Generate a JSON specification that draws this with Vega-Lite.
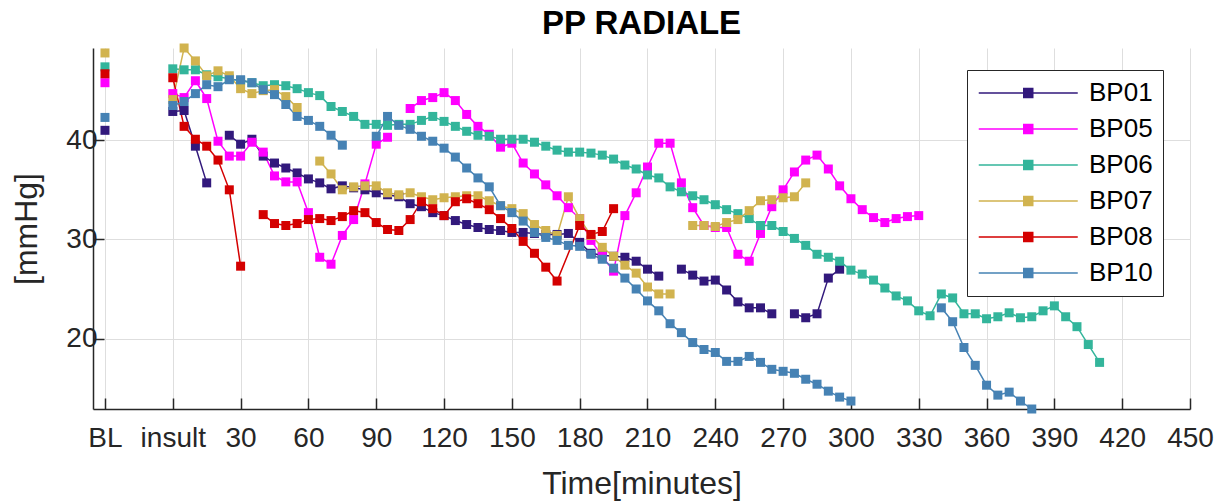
{
  "$schema": "https://vega.github.io/schema/vega-lite/v6.json",
  "width": 1097,
  "height": 361,
  "autosize": {"type": "none"},
  "padding": {"left": 93, "top": 48, "right": 37, "bottom": 95},
  "background": "white",
  "title": {
    "text": "PP RADIALE",
    "font": "Liberation Sans",
    "fontSize": 33,
    "fontWeight": "bold",
    "color": "#000000",
    "anchor": "middle",
    "frame": "group",
    "offset": 3
  },
  "config": {
    "view": {"stroke": null},
    "font": "Liberation Sans",
    "axis": {
      "domainColor": "#262626",
      "domainWidth": 1.5,
      "tickColor": "#262626",
      "tickWidth": 1.5,
      "tickSize": -11,
      "gridColor": "#dedede",
      "gridWidth": 1,
      "labelFont": "Liberation Sans",
      "labelFontSize": 28,
      "labelColor": "#262626",
      "titleFont": "Liberation Sans",
      "titleFontSize": 32,
      "titleFontWeight": "normal",
      "titleColor": "#262626"
    }
  },
  "datasets": {
    "pp": [
      {"subject": "BP01", "time": -30, "pp": 41.0},
      {"subject": "BP01", "time": -15, "pp": null},
      {"subject": "BP01", "time": 0, "pp": 42.9},
      {"subject": "BP01", "time": 5, "pp": 43.0},
      {"subject": "BP01", "time": 10, "pp": 39.4},
      {"subject": "BP01", "time": 15, "pp": 35.7},
      {"subject": "BP01", "time": 20, "pp": null},
      {"subject": "BP01", "time": 25, "pp": 40.5},
      {"subject": "BP01", "time": 30, "pp": 39.6},
      {"subject": "BP01", "time": 35, "pp": 40.1},
      {"subject": "BP01", "time": 40, "pp": 38.4},
      {"subject": "BP01", "time": 45, "pp": 37.7},
      {"subject": "BP01", "time": 50, "pp": 37.2},
      {"subject": "BP01", "time": 55, "pp": 36.7},
      {"subject": "BP01", "time": 60, "pp": 36.1},
      {"subject": "BP01", "time": 65, "pp": 35.7},
      {"subject": "BP01", "time": 70, "pp": 35.1},
      {"subject": "BP01", "time": 75, "pp": 35.4},
      {"subject": "BP01", "time": 80, "pp": 35.2},
      {"subject": "BP01", "time": 85, "pp": 35.0},
      {"subject": "BP01", "time": 90, "pp": 34.7},
      {"subject": "BP01", "time": 95, "pp": 34.5},
      {"subject": "BP01", "time": 100, "pp": 34.3},
      {"subject": "BP01", "time": 105, "pp": 33.6},
      {"subject": "BP01", "time": 110, "pp": 33.3},
      {"subject": "BP01", "time": 115, "pp": 32.7},
      {"subject": "BP01", "time": 120, "pp": 32.4},
      {"subject": "BP01", "time": 125, "pp": 31.9},
      {"subject": "BP01", "time": 130, "pp": 31.5},
      {"subject": "BP01", "time": 135, "pp": 31.2},
      {"subject": "BP01", "time": 140, "pp": 31.0},
      {"subject": "BP01", "time": 145, "pp": 30.9},
      {"subject": "BP01", "time": 150, "pp": 30.7},
      {"subject": "BP01", "time": 155, "pp": 30.7},
      {"subject": "BP01", "time": 160, "pp": 30.6},
      {"subject": "BP01", "time": 165, "pp": 30.5},
      {"subject": "BP01", "time": 170, "pp": 30.5},
      {"subject": "BP01", "time": 175, "pp": 30.6},
      {"subject": "BP01", "time": 180, "pp": 29.7},
      {"subject": "BP01", "time": 185, "pp": 28.6},
      {"subject": "BP01", "time": 190, "pp": 28.4},
      {"subject": "BP01", "time": 195, "pp": 28.3},
      {"subject": "BP01", "time": 200, "pp": 28.2},
      {"subject": "BP01", "time": 205, "pp": 27.8},
      {"subject": "BP01", "time": 210, "pp": 27.0},
      {"subject": "BP01", "time": 215, "pp": 26.3},
      {"subject": "BP01", "time": 220, "pp": null},
      {"subject": "BP01", "time": 225, "pp": 27.0},
      {"subject": "BP01", "time": 230, "pp": 26.4},
      {"subject": "BP01", "time": 235, "pp": 25.8},
      {"subject": "BP01", "time": 240, "pp": 25.9},
      {"subject": "BP01", "time": 245, "pp": 24.9},
      {"subject": "BP01", "time": 250, "pp": 23.7},
      {"subject": "BP01", "time": 255, "pp": 23.1},
      {"subject": "BP01", "time": 260, "pp": 23.1},
      {"subject": "BP01", "time": 265, "pp": 22.5},
      {"subject": "BP01", "time": 270, "pp": null},
      {"subject": "BP01", "time": 275, "pp": 22.5},
      {"subject": "BP01", "time": 280, "pp": 22.1},
      {"subject": "BP01", "time": 285, "pp": 22.5},
      {"subject": "BP01", "time": 290, "pp": 26.1},
      {"subject": "BP01", "time": 295, "pp": 27.0},

      {"subject": "BP05", "time": -30, "pp": 45.8},
      {"subject": "BP05", "time": -15, "pp": null},
      {"subject": "BP05", "time": 0, "pp": 44.7},
      {"subject": "BP05", "time": 5, "pp": 44.3},
      {"subject": "BP05", "time": 10, "pp": 46.0},
      {"subject": "BP05", "time": 15, "pp": 44.2},
      {"subject": "BP05", "time": 20, "pp": 39.9},
      {"subject": "BP05", "time": 25, "pp": 38.4},
      {"subject": "BP05", "time": 30, "pp": 38.4},
      {"subject": "BP05", "time": 35, "pp": 39.8},
      {"subject": "BP05", "time": 40, "pp": 38.8},
      {"subject": "BP05", "time": 45, "pp": 36.4},
      {"subject": "BP05", "time": 50, "pp": 35.8},
      {"subject": "BP05", "time": 55, "pp": 35.8},
      {"subject": "BP05", "time": 60, "pp": 32.7},
      {"subject": "BP05", "time": 65, "pp": 28.2},
      {"subject": "BP05", "time": 70, "pp": 27.5},
      {"subject": "BP05", "time": 75, "pp": 30.4},
      {"subject": "BP05", "time": 80, "pp": 32.0},
      {"subject": "BP05", "time": 85, "pp": 35.6},
      {"subject": "BP05", "time": 90, "pp": 39.6},
      {"subject": "BP05", "time": 95, "pp": 40.3},
      {"subject": "BP05", "time": 100, "pp": null},
      {"subject": "BP05", "time": 105, "pp": 43.2},
      {"subject": "BP05", "time": 110, "pp": 44.0},
      {"subject": "BP05", "time": 115, "pp": 44.3},
      {"subject": "BP05", "time": 120, "pp": 44.8},
      {"subject": "BP05", "time": 125, "pp": 44.0},
      {"subject": "BP05", "time": 130, "pp": 42.6},
      {"subject": "BP05", "time": 135, "pp": 41.4},
      {"subject": "BP05", "time": 140, "pp": 40.6},
      {"subject": "BP05", "time": 145, "pp": 39.3},
      {"subject": "BP05", "time": 150, "pp": 39.7},
      {"subject": "BP05", "time": 155, "pp": 37.7},
      {"subject": "BP05", "time": 160, "pp": 36.6},
      {"subject": "BP05", "time": 165, "pp": 35.5},
      {"subject": "BP05", "time": 170, "pp": 34.4},
      {"subject": "BP05", "time": 175, "pp": 33.2},
      {"subject": "BP05", "time": 180, "pp": 32.1},
      {"subject": "BP05", "time": 185, "pp": 29.9},
      {"subject": "BP05", "time": 190, "pp": 28.3},
      {"subject": "BP05", "time": 195, "pp": 26.8},
      {"subject": "BP05", "time": 200, "pp": 32.4},
      {"subject": "BP05", "time": 205, "pp": 34.7},
      {"subject": "BP05", "time": 210, "pp": 37.3},
      {"subject": "BP05", "time": 215, "pp": 39.7},
      {"subject": "BP05", "time": 220, "pp": 39.7},
      {"subject": "BP05", "time": 225, "pp": 35.7},
      {"subject": "BP05", "time": 230, "pp": 33.2},
      {"subject": "BP05", "time": 235, "pp": 31.4},
      {"subject": "BP05", "time": 240, "pp": 31.2},
      {"subject": "BP05", "time": 245, "pp": 31.2},
      {"subject": "BP05", "time": 250, "pp": 28.5},
      {"subject": "BP05", "time": 255, "pp": 27.8},
      {"subject": "BP05", "time": 260, "pp": 30.6},
      {"subject": "BP05", "time": 265, "pp": 33.3},
      {"subject": "BP05", "time": 270, "pp": 35.0},
      {"subject": "BP05", "time": 275, "pp": 36.8},
      {"subject": "BP05", "time": 280, "pp": 38.0},
      {"subject": "BP05", "time": 285, "pp": 38.5},
      {"subject": "BP05", "time": 290, "pp": 37.1},
      {"subject": "BP05", "time": 295, "pp": 35.4},
      {"subject": "BP05", "time": 300, "pp": 34.1},
      {"subject": "BP05", "time": 305, "pp": 33.0},
      {"subject": "BP05", "time": 310, "pp": 32.2},
      {"subject": "BP05", "time": 315, "pp": 31.7},
      {"subject": "BP05", "time": 320, "pp": 32.1},
      {"subject": "BP05", "time": 325, "pp": 32.3},
      {"subject": "BP05", "time": 330, "pp": 32.4},

      {"subject": "BP06", "time": -30, "pp": 47.4},
      {"subject": "BP06", "time": -15, "pp": null},
      {"subject": "BP06", "time": 0, "pp": 47.2},
      {"subject": "BP06", "time": 5, "pp": 47.1},
      {"subject": "BP06", "time": 10, "pp": 47.1},
      {"subject": "BP06", "time": 15, "pp": 46.6},
      {"subject": "BP06", "time": 20, "pp": 46.4},
      {"subject": "BP06", "time": 25, "pp": 46.2},
      {"subject": "BP06", "time": 30, "pp": 46.0},
      {"subject": "BP06", "time": 35, "pp": 45.8},
      {"subject": "BP06", "time": 40, "pp": 45.5},
      {"subject": "BP06", "time": 45, "pp": 45.6},
      {"subject": "BP06", "time": 50, "pp": 45.5},
      {"subject": "BP06", "time": 55, "pp": 45.2},
      {"subject": "BP06", "time": 60, "pp": 44.8},
      {"subject": "BP06", "time": 65, "pp": 44.5},
      {"subject": "BP06", "time": 70, "pp": 43.4},
      {"subject": "BP06", "time": 75, "pp": 42.9},
      {"subject": "BP06", "time": 80, "pp": 42.4},
      {"subject": "BP06", "time": 85, "pp": 41.6},
      {"subject": "BP06", "time": 90, "pp": 41.6},
      {"subject": "BP06", "time": 95, "pp": 41.5},
      {"subject": "BP06", "time": 100, "pp": 41.6},
      {"subject": "BP06", "time": 105, "pp": 41.6},
      {"subject": "BP06", "time": 110, "pp": 42.0},
      {"subject": "BP06", "time": 115, "pp": 42.4},
      {"subject": "BP06", "time": 120, "pp": 41.9},
      {"subject": "BP06", "time": 125, "pp": 41.4},
      {"subject": "BP06", "time": 130, "pp": 40.9},
      {"subject": "BP06", "time": 135, "pp": 40.5},
      {"subject": "BP06", "time": 140, "pp": 40.4},
      {"subject": "BP06", "time": 145, "pp": 40.1},
      {"subject": "BP06", "time": 150, "pp": 40.1},
      {"subject": "BP06", "time": 155, "pp": 40.1},
      {"subject": "BP06", "time": 160, "pp": 39.8},
      {"subject": "BP06", "time": 165, "pp": 39.4},
      {"subject": "BP06", "time": 170, "pp": 39.0},
      {"subject": "BP06", "time": 175, "pp": 38.8},
      {"subject": "BP06", "time": 180, "pp": 38.8},
      {"subject": "BP06", "time": 185, "pp": 38.7},
      {"subject": "BP06", "time": 190, "pp": 38.5},
      {"subject": "BP06", "time": 195, "pp": 38.1},
      {"subject": "BP06", "time": 200, "pp": 37.5},
      {"subject": "BP06", "time": 205, "pp": 37.1},
      {"subject": "BP06", "time": 210, "pp": 36.5},
      {"subject": "BP06", "time": 215, "pp": 36.2},
      {"subject": "BP06", "time": 220, "pp": 35.3},
      {"subject": "BP06", "time": 225, "pp": 34.8},
      {"subject": "BP06", "time": 230, "pp": 34.4},
      {"subject": "BP06", "time": 235, "pp": 34.0},
      {"subject": "BP06", "time": 240, "pp": 33.5},
      {"subject": "BP06", "time": 245, "pp": 33.0},
      {"subject": "BP06", "time": 250, "pp": 32.6},
      {"subject": "BP06", "time": 255, "pp": 32.1},
      {"subject": "BP06", "time": 260, "pp": 31.4},
      {"subject": "BP06", "time": 265, "pp": 31.4},
      {"subject": "BP06", "time": 270, "pp": 30.8},
      {"subject": "BP06", "time": 275, "pp": 30.1},
      {"subject": "BP06", "time": 280, "pp": 29.4},
      {"subject": "BP06", "time": 285, "pp": 28.5},
      {"subject": "BP06", "time": 290, "pp": 28.2},
      {"subject": "BP06", "time": 295, "pp": 27.8},
      {"subject": "BP06", "time": 300, "pp": 26.9},
      {"subject": "BP06", "time": 305, "pp": 26.5},
      {"subject": "BP06", "time": 310, "pp": 25.9},
      {"subject": "BP06", "time": 315, "pp": 25.1},
      {"subject": "BP06", "time": 320, "pp": 24.3},
      {"subject": "BP06", "time": 325, "pp": 23.8},
      {"subject": "BP06", "time": 330, "pp": 22.8},
      {"subject": "BP06", "time": 335, "pp": 22.3},
      {"subject": "BP06", "time": 340, "pp": 24.5},
      {"subject": "BP06", "time": 345, "pp": 24.1},
      {"subject": "BP06", "time": 350, "pp": 22.5},
      {"subject": "BP06", "time": 355, "pp": 22.5},
      {"subject": "BP06", "time": 360, "pp": 22.0},
      {"subject": "BP06", "time": 365, "pp": 22.2},
      {"subject": "BP06", "time": 370, "pp": 22.6},
      {"subject": "BP06", "time": 375, "pp": 22.1},
      {"subject": "BP06", "time": 380, "pp": 22.2},
      {"subject": "BP06", "time": 385, "pp": 22.8},
      {"subject": "BP06", "time": 390, "pp": 23.3},
      {"subject": "BP06", "time": 395, "pp": 22.2},
      {"subject": "BP06", "time": 400, "pp": 21.2},
      {"subject": "BP06", "time": 405, "pp": 19.4},
      {"subject": "BP06", "time": 410, "pp": 17.6},

      {"subject": "BP07", "time": -30, "pp": 48.8},
      {"subject": "BP07", "time": -15, "pp": null},
      {"subject": "BP07", "time": 0, "pp": 44.1},
      {"subject": "BP07", "time": 5, "pp": 49.3},
      {"subject": "BP07", "time": 10, "pp": 48.0},
      {"subject": "BP07", "time": 15, "pp": 46.5},
      {"subject": "BP07", "time": 20, "pp": 47.0},
      {"subject": "BP07", "time": 25, "pp": 46.5},
      {"subject": "BP07", "time": 30, "pp": 45.2},
      {"subject": "BP07", "time": 35, "pp": 44.7},
      {"subject": "BP07", "time": 40, "pp": 45.0},
      {"subject": "BP07", "time": 45, "pp": 45.1},
      {"subject": "BP07", "time": 50, "pp": 44.4},
      {"subject": "BP07", "time": 55, "pp": 43.3},
      {"subject": "BP07", "time": 60, "pp": null},
      {"subject": "BP07", "time": 65, "pp": 37.9},
      {"subject": "BP07", "time": 70, "pp": 36.6},
      {"subject": "BP07", "time": 75, "pp": 35.0},
      {"subject": "BP07", "time": 80, "pp": 35.3},
      {"subject": "BP07", "time": 85, "pp": 35.4},
      {"subject": "BP07", "time": 90, "pp": 35.4},
      {"subject": "BP07", "time": 95, "pp": 34.7},
      {"subject": "BP07", "time": 100, "pp": 34.5},
      {"subject": "BP07", "time": 105, "pp": 34.7},
      {"subject": "BP07", "time": 110, "pp": 34.3},
      {"subject": "BP07", "time": 115, "pp": 34.0},
      {"subject": "BP07", "time": 120, "pp": 34.2},
      {"subject": "BP07", "time": 125, "pp": 34.3},
      {"subject": "BP07", "time": 130, "pp": 34.4},
      {"subject": "BP07", "time": 135, "pp": 34.4},
      {"subject": "BP07", "time": 140, "pp": 33.9},
      {"subject": "BP07", "time": 145, "pp": 33.4},
      {"subject": "BP07", "time": 150, "pp": 33.1},
      {"subject": "BP07", "time": 155, "pp": 32.6},
      {"subject": "BP07", "time": 160, "pp": 31.5},
      {"subject": "BP07", "time": 165, "pp": 30.9},
      {"subject": "BP07", "time": 170, "pp": 30.4},
      {"subject": "BP07", "time": 175, "pp": 34.3},
      {"subject": "BP07", "time": 180, "pp": 32.1},
      {"subject": "BP07", "time": 185, "pp": 30.4},
      {"subject": "BP07", "time": 190, "pp": 29.2},
      {"subject": "BP07", "time": 195, "pp": 28.3},
      {"subject": "BP07", "time": 200, "pp": 27.4},
      {"subject": "BP07", "time": 205, "pp": 26.6},
      {"subject": "BP07", "time": 210, "pp": 25.2},
      {"subject": "BP07", "time": 215, "pp": 24.5},
      {"subject": "BP07", "time": 220, "pp": 24.5},
      {"subject": "BP07", "time": 225, "pp": null},
      {"subject": "BP07", "time": 230, "pp": 31.4},
      {"subject": "BP07", "time": 235, "pp": 31.4},
      {"subject": "BP07", "time": 240, "pp": 31.3},
      {"subject": "BP07", "time": 245, "pp": 31.7},
      {"subject": "BP07", "time": 250, "pp": 32.0},
      {"subject": "BP07", "time": 255, "pp": 32.9},
      {"subject": "BP07", "time": 260, "pp": 33.9},
      {"subject": "BP07", "time": 265, "pp": 34.0},
      {"subject": "BP07", "time": 270, "pp": 34.2},
      {"subject": "BP07", "time": 275, "pp": 34.3},
      {"subject": "BP07", "time": 280, "pp": 35.7},

      {"subject": "BP08", "time": -30, "pp": 46.7},
      {"subject": "BP08", "time": -15, "pp": null},
      {"subject": "BP08", "time": 0, "pp": 46.3},
      {"subject": "BP08", "time": 5, "pp": 41.4},
      {"subject": "BP08", "time": 10, "pp": 40.1},
      {"subject": "BP08", "time": 15, "pp": 39.4},
      {"subject": "BP08", "time": 20, "pp": 38.0},
      {"subject": "BP08", "time": 25, "pp": 35.0},
      {"subject": "BP08", "time": 30, "pp": 27.3},
      {"subject": "BP08", "time": 35, "pp": null},
      {"subject": "BP08", "time": 40, "pp": 32.5},
      {"subject": "BP08", "time": 45, "pp": 31.6},
      {"subject": "BP08", "time": 50, "pp": 31.4},
      {"subject": "BP08", "time": 55, "pp": 31.6},
      {"subject": "BP08", "time": 60, "pp": 32.0},
      {"subject": "BP08", "time": 65, "pp": 32.1},
      {"subject": "BP08", "time": 70, "pp": 31.9},
      {"subject": "BP08", "time": 75, "pp": 32.3},
      {"subject": "BP08", "time": 80, "pp": 32.9},
      {"subject": "BP08", "time": 85, "pp": 32.7},
      {"subject": "BP08", "time": 90, "pp": 31.7},
      {"subject": "BP08", "time": 95, "pp": 31.0},
      {"subject": "BP08", "time": 100, "pp": 30.9},
      {"subject": "BP08", "time": 105, "pp": 32.0},
      {"subject": "BP08", "time": 110, "pp": 33.8},
      {"subject": "BP08", "time": 115, "pp": 33.1},
      {"subject": "BP08", "time": 120, "pp": 32.4},
      {"subject": "BP08", "time": 125, "pp": 33.8},
      {"subject": "BP08", "time": 130, "pp": 34.1},
      {"subject": "BP08", "time": 135, "pp": 33.6},
      {"subject": "BP08", "time": 140, "pp": 33.0},
      {"subject": "BP08", "time": 145, "pp": 32.1},
      {"subject": "BP08", "time": 150, "pp": 31.1},
      {"subject": "BP08", "time": 155, "pp": 29.8},
      {"subject": "BP08", "time": 160, "pp": 28.6},
      {"subject": "BP08", "time": 165, "pp": 27.2},
      {"subject": "BP08", "time": 170, "pp": 25.8},
      {"subject": "BP08", "time": 180, "pp": 31.4},
      {"subject": "BP08", "time": 185, "pp": 30.5},
      {"subject": "BP08", "time": 190, "pp": 30.8},
      {"subject": "BP08", "time": 195, "pp": 33.1},

      {"subject": "BP10", "time": -30, "pp": 42.3},
      {"subject": "BP10", "time": -15, "pp": null},
      {"subject": "BP10", "time": 0, "pp": 43.5},
      {"subject": "BP10", "time": 5, "pp": 43.9},
      {"subject": "BP10", "time": 10, "pp": 44.7},
      {"subject": "BP10", "time": 15, "pp": 45.6},
      {"subject": "BP10", "time": 20, "pp": 45.4},
      {"subject": "BP10", "time": 25, "pp": 46.1},
      {"subject": "BP10", "time": 30, "pp": 46.1},
      {"subject": "BP10", "time": 35, "pp": 45.8},
      {"subject": "BP10", "time": 40, "pp": 45.1},
      {"subject": "BP10", "time": 45, "pp": 44.6},
      {"subject": "BP10", "time": 50, "pp": 43.6},
      {"subject": "BP10", "time": 55, "pp": 42.4},
      {"subject": "BP10", "time": 60, "pp": 42.0},
      {"subject": "BP10", "time": 65, "pp": 41.4},
      {"subject": "BP10", "time": 70, "pp": 40.5},
      {"subject": "BP10", "time": 75, "pp": 39.5},
      {"subject": "BP10", "time": 80, "pp": null},
      {"subject": "BP10", "time": 90, "pp": 40.4},
      {"subject": "BP10", "time": 95, "pp": 42.4},
      {"subject": "BP10", "time": 100, "pp": 41.5},
      {"subject": "BP10", "time": 105, "pp": 41.1},
      {"subject": "BP10", "time": 110, "pp": 40.4},
      {"subject": "BP10", "time": 115, "pp": 39.9},
      {"subject": "BP10", "time": 120, "pp": 39.2},
      {"subject": "BP10", "time": 125, "pp": 38.3},
      {"subject": "BP10", "time": 130, "pp": 37.2},
      {"subject": "BP10", "time": 135, "pp": 36.2},
      {"subject": "BP10", "time": 140, "pp": 35.3},
      {"subject": "BP10", "time": 145, "pp": 33.4},
      {"subject": "BP10", "time": 150, "pp": 32.7},
      {"subject": "BP10", "time": 155, "pp": 31.85},
      {"subject": "BP10", "time": 160, "pp": 30.7},
      {"subject": "BP10", "time": 165, "pp": 30.2},
      {"subject": "BP10", "time": 170, "pp": 29.9},
      {"subject": "BP10", "time": 175, "pp": 29.4},
      {"subject": "BP10", "time": 180, "pp": 29.3},
      {"subject": "BP10", "time": 185, "pp": 28.5},
      {"subject": "BP10", "time": 190, "pp": 28.0},
      {"subject": "BP10", "time": 195, "pp": 27.1},
      {"subject": "BP10", "time": 200, "pp": 26.1},
      {"subject": "BP10", "time": 205, "pp": 25.0},
      {"subject": "BP10", "time": 210, "pp": 23.8},
      {"subject": "BP10", "time": 215, "pp": 22.8},
      {"subject": "BP10", "time": 220, "pp": 21.5},
      {"subject": "BP10", "time": 225, "pp": 20.6},
      {"subject": "BP10", "time": 230, "pp": 19.6},
      {"subject": "BP10", "time": 235, "pp": 18.9},
      {"subject": "BP10", "time": 240, "pp": 18.6},
      {"subject": "BP10", "time": 245, "pp": 17.7},
      {"subject": "BP10", "time": 250, "pp": 17.7},
      {"subject": "BP10", "time": 255, "pp": 18.2},
      {"subject": "BP10", "time": 260, "pp": 17.6},
      {"subject": "BP10", "time": 265, "pp": 16.9},
      {"subject": "BP10", "time": 270, "pp": 16.7},
      {"subject": "BP10", "time": 275, "pp": 16.5},
      {"subject": "BP10", "time": 280, "pp": 15.9},
      {"subject": "BP10", "time": 285, "pp": 15.4},
      {"subject": "BP10", "time": 290, "pp": 14.7},
      {"subject": "BP10", "time": 295, "pp": 14.1},
      {"subject": "BP10", "time": 300, "pp": 13.7},
      {"subject": "BP10", "time": 320, "pp": null},
      {"subject": "BP10", "time": 340, "pp": 23.1},
      {"subject": "BP10", "time": 345, "pp": 21.7},
      {"subject": "BP10", "time": 350, "pp": 19.1},
      {"subject": "BP10", "time": 355, "pp": 17.3},
      {"subject": "BP10", "time": 360, "pp": 15.3},
      {"subject": "BP10", "time": 365, "pp": 14.3},
      {"subject": "BP10", "time": 370, "pp": 14.6},
      {"subject": "BP10", "time": 375, "pp": 13.7},
      {"subject": "BP10", "time": 380, "pp": 12.9}
    ]
  },
  "data": {"name": "pp"},
  "encoding": {
    "x": {
      "field": "time",
      "type": "quantitative",
      "scale": {"domain": [-35.3, 450], "nice": false, "zero": false},
      "axis": {
        "title": "Time[minutes]",
        "values": [-30, 0, 30, 60, 90, 120, 150, 180, 210, 240, 270, 300, 330, 360, 390, 420, 450],
        "labelExpr": "datum.value === -30 ? 'BL' : datum.value === 0 ? 'insult' : datum.label",
        "labelPadding": 26,
        "labelFlush": false,
        "labelOverlap": false,
        "titlePadding": 16,
        "grid": true
      }
    },
    "y": {
      "field": "pp",
      "type": "quantitative",
      "scale": {"domain": [12.9, 49.3], "nice": false, "zero": false},
      "axis": {
        "title": "[mmHg]",
        "values": [20, 30, 40],
        "labelPadding": 7,
        "titlePadding": 22,
        "grid": true
      }
    },
    "color": {
      "field": "subject",
      "type": "nominal",
      "scale": {
        "domain": ["BP01", "BP05", "BP06", "BP07", "BP08", "BP10"],
        "range": ["#32197c", "#ff00ff", "#33b59b", "#d1b34f", "#d40000", "#4682b4"]
      },
      "legend": {
        "title": null,
        "orient": "none",
        "legendX": 874,
        "legendY": 22,
        "padding": 10,
        "rowPadding": 10,
        "strokeColor": "#262626",
        "fillColor": "white",
        "cornerRadius": 0,
        "symbolType": "M-2.5,0H19.5M7.5,-1H9.5V1H7.5Z",
        "symbolSize": 81,
        "symbolStrokeWidth": 1.5,
        "labelFont": "Liberation Sans",
        "labelFontSize": 26,
        "labelColor": "#000000",
        "labelOffset": 86,
        "encode": {
          "symbols": {
            "update": {
              "fill": {"scale": "color", "field": "value"},
              "stroke": {"scale": "color", "field": "value"},
              "opacity": {"value": 1}
            }
          }
        }
      }
    }
  },
  "layer": [
    {"mark": {"type": "line", "strokeWidth": 1.5}},
    {"mark": {"type": "point", "shape": "square", "filled": true, "size": 81, "opacity": 1}}
  ]
}
